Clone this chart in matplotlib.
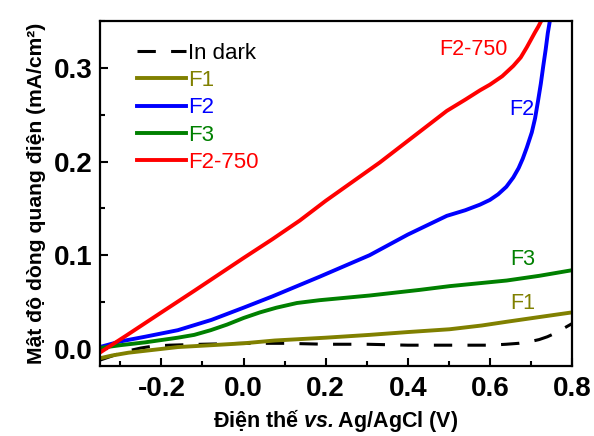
import numpy as np
import matplotlib
matplotlib.use("Agg")
import matplotlib.pyplot as plt
from matplotlib.ticker import MultipleLocator

plt.rcParams['font.family'] = ['Liberation Sans', 'DejaVu Sans']
plt.rcParams['mathtext.fontset'] = 'custom'
plt.rcParams['mathtext.bfit'] = 'Liberation Sans:bold:italic'
plt.rcParams['mathtext.rm'] = 'Liberation Sans'

# ---- data ----
dark_x = [-0.35, -0.33, -0.31, -0.29, -0.27, -0.25, -0.22, -0.18, -0.1, 0.0, 0.1, 0.2, 0.3, 0.4, 0.5, 0.6, 0.64, 0.67, 0.7, 0.72, 0.74, 0.76, 0.78, 0.8]
dark_y = [-0.012, -0.009, -0.006, -0.003, -0.001, 0.001, 0.003, 0.004, 0.005, 0.006, 0.006, 0.005, 0.005, 0.004, 0.004, 0.004, 0.005, 0.006, 0.008, 0.010, 0.013, 0.017, 0.022, 0.027]

f1_x = [-0.35, -0.32, -0.28, -0.24, -0.2, -0.16, -0.078, 0.0, 0.076, 0.2, 0.307, 0.4, 0.502, 0.58, 0.641, 0.72, 0.8]
f1_y = [-0.010, -0.007, -0.004, -0.002, 0.000, 0.002, 0.004, 0.006, 0.009, 0.012, 0.015, 0.018, 0.021, 0.025, 0.029, 0.034, 0.039]

f2_x = [-0.35, -0.3, -0.24, -0.16, -0.078, 0.0, 0.07, 0.185, 0.307, 0.4, 0.495, 0.54, 0.576, 0.6, 0.62, 0.64, 0.657, 0.67, 0.68, 0.69, 0.702, 0.71, 0.717, 0.724, 0.73, 0.736, 0.741, 0.746]
f2_y = [0.002, 0.008, 0.013, 0.020, 0.031, 0.044, 0.056, 0.077, 0.100, 0.122, 0.142, 0.148, 0.154, 0.159, 0.165, 0.173, 0.183, 0.193, 0.203, 0.215, 0.231, 0.246, 0.264, 0.283, 0.302, 0.320, 0.337, 0.350]

f3_x = [-0.35, -0.3, -0.24, -0.16, -0.12, -0.08, -0.04, 0.0, 0.04, 0.08, 0.13, 0.185, 0.307, 0.429, 0.502, 0.641, 0.72, 0.8]
f3_y = [0.001, 0.004, 0.007, 0.012, 0.015, 0.020, 0.026, 0.033, 0.039, 0.044, 0.049, 0.052, 0.057, 0.063, 0.067, 0.073, 0.078, 0.084]

f2750_x = [-0.35, -0.283, -0.2, -0.12, 0.0, 0.07, 0.137, 0.2, 0.332, 0.412, 0.495, 0.54, 0.576, 0.6, 0.63, 0.657, 0.675, 0.69, 0.7, 0.71, 0.718, 0.725]
f2750_y = [-0.004, 0.015, 0.039, 0.062, 0.097, 0.117, 0.137, 0.158, 0.199, 0.226, 0.254, 0.266, 0.276, 0.282, 0.291, 0.302, 0.311, 0.322, 0.330, 0.338, 0.344, 0.350]

labels = ["In dark", "F1", "F2", "F3", "F2-750"]
colors = ["black", "#808000", "#0000ff", "#008000", "#ff0000"]

xticks = [-0.2, 0.0, 0.2, 0.4, 0.6, 0.8]
yticks = [0.0, 0.1, 0.2, 0.3]

fig = plt.figure(figsize=(5.94, 4.36), dpi=100)
ax = fig.add_axes([0.168, 0.161, 0.795, 0.791])

lw = 2.8
ax.plot(dark_x, dark_y, color=colors[0], lw=2.2, dashes=(6, 5), label=labels[0])
ax.plot(f1_x, f1_y, color=colors[1], lw=lw, label=labels[1], solid_joinstyle='round')
ax.plot(f2_x, f2_y, color=colors[2], lw=lw, label=labels[2], solid_joinstyle='round')
ax.plot(f3_x, f3_y, color=colors[3], lw=lw, label=labels[3], solid_joinstyle='round')
ax.plot(f2750_x, f2750_y, color=colors[4], lw=lw, label=labels[4], solid_joinstyle='round')

ax.set_xlim(-0.35, 0.8)
ax.set_ylim(-0.018, 0.35)
ax.set_xticks(xticks)
ax.set_yticks(yticks)
ax.xaxis.set_minor_locator(MultipleLocator(0.1))
ax.yaxis.set_minor_locator(MultipleLocator(0.05))
ax.set_xticklabels([f"{v:.1f}" for v in xticks])
ax.set_yticklabels([f"{v:.1f}" for v in yticks])
ax.tick_params(which='both', direction='in', top=False, right=False, width=1.5)
ax.tick_params(which='major', length=6, labelsize=20)
ax.tick_params(axis='y', which='major', pad=5)
ax.tick_params(axis='x', which='major', pad=7)
ax.tick_params(which='minor', length=3.5)
for lab in ax.get_xticklabels() + ax.get_yticklabels():
    lab.set_fontweight('bold')
for s in ax.spines.values():
    s.set_linewidth(1.6)

ax.set_xlabel(r"Điện thế $\mathbfit{vs.}$Ag/AgCl (V)", fontsize=15.5, fontweight='bold', labelpad=4)
ax.set_ylabel("Mật độ dòng quang điện (mA/cm²)", fontsize=15.2, fontweight='bold', labelpad=6)

leg = ax.legend(loc='upper left', bbox_to_anchor=(0.05, 0.975), frameon=False,
                fontsize=16, handlelength=2.2, handletextpad=0.12,
                labelspacing=0.28, labelcolor='linecolor', borderaxespad=0.2)

ax.text(0.559, 0.320, "F2-750", color=colors[4], fontsize=15.5, ha='center', va='center')
ax.text(0.678, 0.256, "F2", color=colors[2], fontsize=15.5, ha='center', va='center')
ax.text(0.680, 0.095, "F3", color=colors[3], fontsize=15.5, ha='center', va='center')
ax.text(0.680, 0.049, "F1", color=colors[1], fontsize=15.5, ha='center', va='center')

fig.savefig("out.png", dpi=100)
